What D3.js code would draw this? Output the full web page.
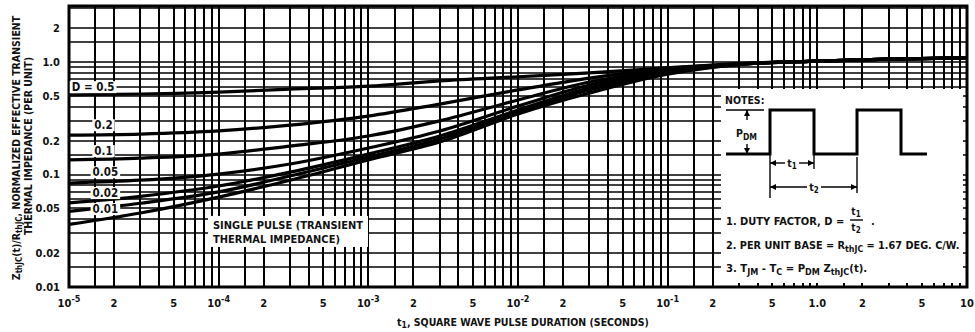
<!DOCTYPE html>
<html lang="en">
<head>
<meta charset="UTF-8">
<title>Transient thermal impedance</title>
<script src="https://cdn.jsdelivr.net/npm/d3@7"></script>
<style>
	body { margin: 0; background: #fff; }
	text { font-family: "Liberation Sans Narrow", "DejaVu Sans Condensed", "Arial Narrow", sans-serif; font-weight: bold; fill: #111; }
</style>
</head>
<body>
<div id="container"></div>
<script>
	var width = 975, height = 332;

	// t1, pulse duration in seconds
	var pulseTimes = [1e-5, 3e-5, 1e-4, 3e-4, 1e-3, 3e-3, 1e-2, 3e-2, 0.1, 0.3, 1, 3, 10];
	// normalized Zth per duty factor
	var zD05   = [0.51, 0.52, 0.54, 0.575, 0.61, 0.68, 0.74, 0.80, 0.89, 0.97, 1.02, 1.06, 1.09];
	var zD02   = [0.224, 0.229, 0.244, 0.275, 0.331, 0.423, 0.565, 0.72, 0.875, 0.965, 1.02, 1.06, 1.09];
	var zD01   = [0.135, 0.140, 0.152, 0.179, 0.22, 0.30, 0.46, 0.665, 0.85, 0.96, 1.02, 1.06, 1.09];
	var zD005  = [0.084, 0.089, 0.101, 0.124, 0.172, 0.244, 0.406, 0.625, 0.83, 0.96, 1.02, 1.06, 1.09];
	var zD002  = [0.056, 0.064, 0.079, 0.105, 0.152, 0.22, 0.375, 0.59, 0.815, 0.955, 1.02, 1.06, 1.09];
	var zD001  = [0.047, 0.0555, 0.070, 0.097, 0.143, 0.207, 0.36, 0.565, 0.80, 0.955, 1.02, 1.06, 1.09];
	var zSingle = [0.036, 0.0455, 0.063, 0.089, 0.135, 0.195, 0.345, 0.53, 0.78, 0.95, 1.02, 1.06, 1.09];

	var seriesList = [zD05, zD02, zD01, zD005, zD002, zD001, zSingle];
	var dutyLabels = ["D = 0.5", "0.2", "0.1", "0.05", "0.02", "0.01"];
	// where the duty labels sit (t, z)
	var dutyLabelT = [1.45e-5, 1.7e-5, 1.7e-5, 1.75e-5, 1.75e-5, 1.75e-5];
	var dutyLabelZ = [0.6, 0.275, 0.162, 0.105, 0.0686, 0.0494];

	var xTickValues = [1e-5, 2e-5, 5e-5, 1e-4, 2e-4, 5e-4, 1e-3, 2e-3, 5e-3, 1e-2, 2e-2, 5e-2, 1e-1, 0.2, 0.5, 1, 2, 5, 10];
	var xTickLabels = ["10|-5", "2", "5", "10|-4", "2", "5", "10|-3", "2", "5", "10|-2", "2", "5", "10|-1", "2", "5", "1.0", "2", "5", "10"];
	var yTickValues = [0.01, 0.02, 0.05, 0.1, 0.2, 0.5, 1, 2];
	var yTickLabels = ["0.01", "0.02", "0.05", "0.1", "0.2", "0.5", "1.0", "2"];
	var gridMultiples = [1, 1.5, 2, 3, 4, 5, 6, 7, 8, 9];

	var svg = d3.select("#container").append("svg")
			.attr("width", width)
			.attr("height", height);

	var x = d3.scaleLog().domain([1e-5, 10]).range([69, 967]);
	var y = d3.scaleLog().domain([0.01, 3.15]).range([287, 6]);

	function gridValues(lo, hi) {
		var out = [];
		for (var dec = lo; dec < hi; dec *= 10) {
			gridMultiples.forEach(m => { var v = +(dec * m).toPrecision(3); if (v <= hi * 1.0001) out.push(v); });
		}
		return out;
	}
	var xGrid = gridValues(1e-5, 10).concat([10]);
	var yGrid = gridValues(0.01, 3.15);

	// grid
	svg.selectAll(".vgrid").data(xGrid)
		.enter().append("line")
			.attr("x1", d => Math.round(x(d))).attr("x2", d => Math.round(x(d)))
			.attr("y1", y.range()[1]).attr("y2", y.range()[0])
			.style("stroke", "#000")
			.style("stroke-width", 2);
	svg.selectAll(".hgrid").data(yGrid)
		.enter().append("line")
			.attr("y1", d => Math.round(y(d))).attr("y2", d => Math.round(y(d)))
			.attr("x1", x.range()[0]).attr("x2", x.range()[1])
			.style("stroke", "#000")
			.style("stroke-width", 1.6);

	// frame
	svg.append("rect")
		.attr("x", x.range()[0]).attr("y", y.range()[1])
		.attr("width", x.range()[1] - x.range()[0])
		.attr("height", y.range()[0] - y.range()[1])
		.style("fill", "none").style("stroke", "#000").style("stroke-width", 3);

	// curves
	var line = d3.line()
		.x(d => x(d[0]))
		.y(d => y(d[1]))
		.curve(d3.curveMonotoneX);
	svg.selectAll(".curve").data(seriesList)
		.enter().append("path")
			.attr("d", s => line(pulseTimes.map((t, i) => [t, s[i]])))
			.style("fill", "none")
			.style("stroke", "#000")
			.style("stroke-width", 3.2)
			.style("stroke-linejoin", "round");

	// duty labels on white patches
	var dl = svg.selectAll(".dlabel").data(dutyLabels)
		.enter().append("g")
			.attr("transform", (d, i) => "translate(" + x(dutyLabelT[i]) + "," + y(dutyLabelZ[i]) + ")");
	dl.append("text")
		.attr("text-anchor", "middle")
		.attr("dy", "0.36em")
		.style("font-size", "11.5px")
		.text(d => d);
	dl.each(function() {
		var g = d3.select(this), b = g.select("text").node().getBBox();
		g.insert("rect", "text")
			.attr("x", b.x - 2).attr("y", b.y + 1)
			.attr("width", b.width + 4).attr("height", b.height - 2)
			.style("fill", "#fff");
	});

	// single pulse note
	var sp = svg.append("g").attr("transform", "translate(" + x(8.75e-5) + "," + y(0.0335) + ")");
	sp.append("rect").attr("x", -2).attr("y", -12).attr("width", 160).attr("height", 31).style("fill", "#fff");
	sp.append("text").attr("x", 3).attr("y", 1).style("font-size", "11px").text("SINGLE PULSE (TRANSIENT");
	sp.append("text").attr("x", 3).attr("y", 15).style("font-size", "11px").text("THERMAL IMPEDANCE)");

	// notes panel
	var nb = svg.append("g").attr("transform", "translate(721,89)");
	nb.append("rect").attr("width", 242).attr("height", 194).style("fill", "#fff");
	nb.append("text").attr("x", 4).attr("y", 15).style("font-size", "10.5px").text("NOTES:");
	var wave = [[5, 65], [49, 65], [49, 21], [93, 21], [93, 65], [136, 65], [136, 21], [180, 21], [180, 65], [206, 65]];
	nb.append("path").attr("d", d3.line()(wave))
		.style("fill", "none").style("stroke", "#000").style("stroke-width", 3).style("stroke-linejoin", "miter");
	function seg(pts) {
		return nb.append("path").attr("d", d3.line()(pts))
			.style("stroke", "#000").style("stroke-width", 1.4).style("fill", "none");
	}
	function head(px, py, dir) {
		var pts = dir === "l" ? [[px, py], [px + 6, py - 3], [px + 6, py + 3]]
			: dir === "r" ? [[px, py], [px - 6, py - 3], [px - 6, py + 3]]
			: dir === "u" ? [[px, py], [px - 3, py + 6], [px + 3, py + 6]]
			: [[px, py], [px - 3, py - 6], [px + 3, py - 6]];
		nb.append("path").attr("d", d3.line()(pts) + "Z").style("fill", "#000");
	}
	seg([[5, 21], [43, 21]]);
	seg([[26, 21], [26, 31]]); head(26, 21, "u");
	seg([[26, 55], [26, 65]]); head(26, 65, "d");
	nb.append("text").attr("x", 15).attr("y", 48).style("font-size", "10.5px")
		.html('P<tspan dy="3" style="font-size:8.5px">DM</tspan>');
	seg([[49, 65], [49, 109]]);
	seg([[93, 65], [93, 80]]);
	seg([[136, 68], [136, 104]]);
	seg([[49, 74], [64, 74]]); head(49, 74, "l");
	seg([[78, 74], [93, 74]]); head(93, 74, "r");
	nb.append("text").attr("x", 71).attr("y", 78).attr("text-anchor", "middle").style("font-size", "10.5px")
		.html('t<tspan dy="2" style="font-size:8px">1</tspan>');
	seg([[49, 98], [86, 98]]); head(49, 98, "l");
	seg([[100, 98], [136, 98]]); head(136, 98, "r");
	nb.append("text").attr("x", 93).attr("y", 102).attr("text-anchor", "middle").style("font-size", "10.5px")
		.html('t<tspan dy="2" style="font-size:8px">2</tspan>');

	nb.append("text").attr("x", 5).attr("y", 136).style("font-size", "11px").text("1. DUTY FACTOR, D =");
	nb.append("text").attr("x", 135).attr("y", 126).attr("text-anchor", "middle").style("font-size", "10px")
		.html('t<tspan dy="2" style="font-size:8px">1</tspan>');
	seg([[129, 131], [142, 131]]);
	nb.append("text").attr("x", 135).attr("y", 142).attr("text-anchor", "middle").style("font-size", "10px")
		.html('t<tspan dy="2" style="font-size:8px">2</tspan>');
	nb.append("text").attr("x", 150).attr("y", 136).style("font-size", "11px").text(".");
	nb.append("text").attr("x", 5).attr("y", 160).style("font-size", "10.8px")
		.html('2. PER UNIT BASE = R<tspan dy="3" style="font-size:8.8px">thJC</tspan><tspan dy="-3"> = 1.67 DEG. C/W.</tspan>');
	nb.append("text").attr("x", 5).attr("y", 183).style("font-size", "11.2px")
		.html('3. T<tspan dy="3" style="font-size:9px">JM</tspan><tspan dy="-3"> - T</tspan><tspan dy="3" style="font-size:9px">C</tspan><tspan dy="-3"> = P</tspan><tspan dy="3" style="font-size:9px">DM</tspan><tspan dy="-3"> Z</tspan><tspan dy="3" style="font-size:9px">thJC</tspan><tspan dy="-3">(t).</tspan>');

	// x tick labels
	svg.selectAll(".xtick").data(xTickLabels)
		.enter().append("text")
			.attr("x", (d, i) => x(xTickValues[i]))
			.attr("y", 307)
			.attr("text-anchor", "middle")
			.style("font-size", "11px")
			.each(function(d) {
				var parts = d.split("|"), t = d3.select(this);
				t.append("tspan").text(parts[0]);
				if (parts[1]) t.append("tspan").attr("dy", -5).style("font-size", "9px").text(parts[1]);
			});

	// y tick labels
	svg.selectAll(".ytick").data(yTickLabels)
		.enter().append("text")
			.attr("x", 60)
			.attr("y", (d, i) => y(yTickValues[i]))
			.attr("dy", "0.36em")
			.attr("text-anchor", "end")
			.style("font-size", "11px")
			.text(d => d);

	// axis titles
	svg.append("text").attr("x", 523).attr("y", 326).attr("text-anchor", "middle").style("font-size", "10.5px")
		.html('t<tspan dy="2" style="font-size:8.5px">1</tspan><tspan dy="-2">, SQUARE WAVE PULSE DURATION (SECONDS)</tspan>');
	svg.append("text").attr("transform", "translate(20,148) rotate(-90)").attr("text-anchor", "middle").style("font-size", "10.5px")
		.html('Z<tspan dy="2" style="font-size:8px">thJC</tspan><tspan dy="-2">(t)/R</tspan><tspan dy="2" style="font-size:8px">thJC</tspan><tspan dy="-2">, NORMALIZED EFFECTIVE TRANSIENT</tspan>');
	svg.append("text").attr("transform", "translate(32,146) rotate(-90)").attr("text-anchor", "middle").style("font-size", "10.5px")
		.text("THERMAL IMPEDANCE (PER UNIT)");
</script>
</body>
</html>
